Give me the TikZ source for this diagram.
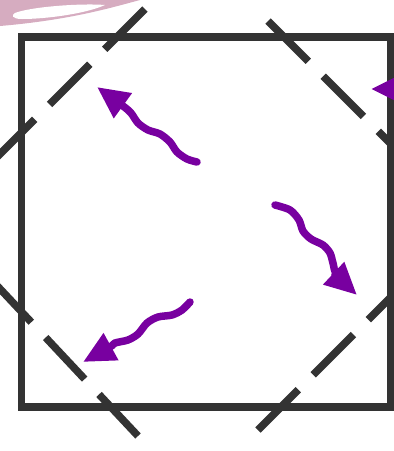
\documentclass[tikz,border=0pt]{standalone}
\usetikzlibrary{arrows.meta}
\definecolor{gris}{HTML}{333333}
\definecolor{violetonde}{RGB}{120,0,160}
\definecolor{rosepale}{RGB}{214,172,192}
\begin{document}
\begin{tikzpicture}[x=1pt,y=-1pt]
	% Styles (MODIFIABLES)
	\tikzstyle{boite}=[draw=gris,line width=7.5pt]
	\tikzstyle{pointille}=[draw=gris,line width=7.5pt,dash pattern=on 57pt off 21pt]
	\tikzstyle{onde}=[draw=violetonde,line width=7.5pt,line cap=round,-{Triangle[length=32pt,width=29pt]}]
	\tikzstyle{tache}=[fill=rosepale]
	% Dimensions (MODIFIABLES)
	\def\Gauche{21.5}
	\def\Droite{391}
	\def\Haut{37}
	\def\Bas{407}
	% Cadre
	\useasboundingbox (0,0) rectangle (394,451);
	\clip (0,0) rectangle (394,451);
	% Tache en haut
	\fill[tache] (0,0) -- (140,0) .. controls (110,8) and (70,20) .. (0,26) -- cycle;
	\fill[white] (15,13) .. controls (30,7) and (80,3) .. (105,5) .. controls (85,14) and (45,19) .. (22,19) .. controls (12,19) and (11,15) .. (15,13) -- cycle;
	% Carre
	\draw[boite] (\Gauche,\Haut) rectangle (\Droite,\Bas);
	% Lignes en pointilles (depuis le bout interieur)
	\draw[pointille] (145,9) -- (-20,174);
	\draw[pointille] (268,21) -- (420,173);
	\draw[pointille] (138,436) -- (-12,276);
	\draw[pointille] (258,430) -- (420,268);
	% Ondes
	\draw[onde] plot[smooth] coordinates {(197,162) (187,159) (177,152) (170,142) (160,134) (148,130) (138,123) (131,113) (123,106) (97,87)};
	\draw[onde] plot[smooth] coordinates {(275,205) (290,210) (299,220) (303,231) (311,239) (323,245) (330,253) (333,263) (337,275) (357,295)};
	\draw[onde] plot[smooth] coordinates {(190,302) (182,310) (172,315) (158,317) (147,323) (138,334) (128,340) (115,343) (110,347) (83,362)};
	\draw[onde] plot[smooth] coordinates {(440,88) (420,89) (404,89) (371,89)};
\end{tikzpicture}
\end{document}
